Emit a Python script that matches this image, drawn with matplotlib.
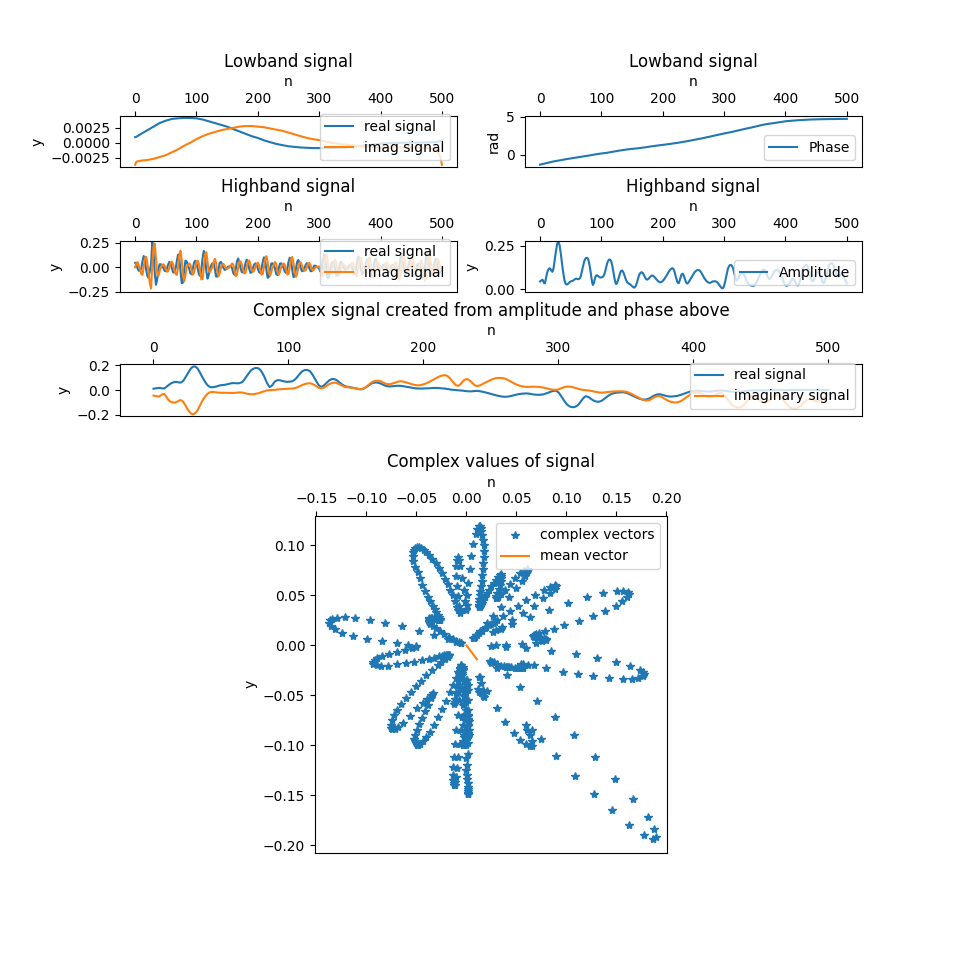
"""Lowband / highband signal decomposition and the complex signal built from them."""

import numpy as np
import matplotlib

matplotlib.use("Agg")
import matplotlib.pyplot as plt  # noqa: E402

# Lowband signal (smooth).
LOW_N = [0, 2, 5, 10, 20, 30, 40, 50, 60, 70, 80, 90, 100, 110, 120, 130, 140,
         150, 160, 170, 180, 190, 200, 210, 220, 230, 240, 250, 260, 270, 280,
         290, 300, 320, 340, 360, 380, 400, 420, 440, 460, 480, 490, 495, 498, 500]
LOW_REAL = [0.00094, 0.0010, 0.0012, 0.0015, 0.0021, 0.0027, 0.0033, 0.0037,
            0.0040, 0.0041, 0.00417, 0.00415, 0.0041, 0.0039, 0.0036, 0.0033,
            0.0030, 0.0027, 0.0023, 0.0019, 0.0015, 0.0011, 0.0008, 0.0004,
            0.0001, -0.0002, -0.0004, -0.0006, -0.0007, -0.0008, -0.00085,
            -0.0009, -0.0009, -0.0009, -0.0008, -0.0006, -0.0004, -0.00015,
            -0.00005, 0.0, 0.00003, 0.00005, 0.0001, 0.0002, 0.0003, 0.0004]
LOW_IMAG = [-0.0037, -0.0032, -0.0031, -0.0030, -0.0029, -0.0027, -0.0024,
            -0.0021, -0.0016, -0.0011, -0.0005, 0.0, 0.0006, 0.0011, 0.0015,
            0.0018, 0.0021, 0.0023, 0.0025, 0.0027, 0.0028, 0.0028, 0.0027,
            0.0026, 0.0024, 0.0022, 0.0020, 0.0017, 0.0014, 0.0011, 0.0008,
            0.0006, 0.00045, 0.0, -0.0003, -0.0005, -0.0007, -0.0008, -0.0008,
            -0.0008, -0.0008, -0.0009, -0.0012, -0.0018, -0.0026, -0.0037]

# Phase of the lowband and amplitude of the highband, one value per sample.
PHASE = [
    -1.32, -1.30, -1.28, -1.26, -1.24, -1.22, -1.20, -1.18, -1.16, -1.14,
    -1.12, -1.10, -1.08, -1.055, -1.03, -1.01, -0.99, -0.975, -0.96, -0.945,
    -0.93, -0.915, -0.90, -0.89, -0.88, -0.865, -0.85, -0.835, -0.82, -0.805,
    -0.79, -0.775, -0.76, -0.745, -0.73, -0.715, -0.70, -0.685, -0.67, -0.655,
    -0.64, -0.625, -0.61, -0.595, -0.58, -0.57, -0.56, -0.545, -0.53, -0.515,
    -0.50, -0.49, -0.48, -0.465, -0.45, -0.435, -0.42, -0.405, -0.39, -0.38,
    -0.37, -0.355, -0.34, -0.33, -0.32, -0.305, -0.29, -0.28, -0.27, -0.255,
    -0.24, -0.225, -0.21, -0.20, -0.19, -0.175, -0.16, -0.15, -0.14, -0.125,
    -0.11, -0.095, -0.08, -0.065, -0.05, -0.035, -0.02, -0.005, 0.01, 0.025,
    0.04, 0.055, 0.07, 0.08, 0.09, 0.10, 0.11, 0.12, 0.13, 0.14,
    0.15, 0.155, 0.16, 0.17, 0.18, 0.19, 0.20, 0.215, 0.23, 0.245,
    0.26, 0.275, 0.29, 0.305, 0.32, 0.335, 0.35, 0.365, 0.38, 0.395,
    0.41, 0.425, 0.44, 0.455, 0.47, 0.48, 0.49, 0.505, 0.52, 0.535,
    0.55, 0.56, 0.57, 0.585, 0.60, 0.61, 0.62, 0.635, 0.65, 0.66,
    0.67, 0.68, 0.69, 0.70, 0.71, 0.72, 0.73, 0.74, 0.75, 0.76,
    0.77, 0.775, 0.78, 0.79, 0.80, 0.805, 0.81, 0.82, 0.83, 0.84,
    0.85, 0.855, 0.86, 0.87, 0.88, 0.89, 0.90, 0.915, 0.93, 0.94,
    0.95, 0.965, 0.98, 0.99, 1.00, 1.015, 1.03, 1.04, 1.05, 1.065,
    1.08, 1.095, 1.11, 1.12, 1.13, 1.14, 1.15, 1.16, 1.17, 1.18,
    1.19, 1.20, 1.21, 1.22, 1.23, 1.24, 1.25, 1.265, 1.28, 1.29,
    1.30, 1.31, 1.32, 1.33, 1.34, 1.35, 1.36, 1.37, 1.38, 1.39,
    1.40, 1.415, 1.43, 1.44, 1.45, 1.46, 1.47, 1.48, 1.49, 1.505,
    1.52, 1.53, 1.54, 1.555, 1.57, 1.58, 1.59, 1.605, 1.62, 1.635,
    1.65, 1.66, 1.67, 1.685, 1.70, 1.715, 1.73, 1.74, 1.75, 1.765,
    1.78, 1.795, 1.81, 1.825, 1.84, 1.855, 1.87, 1.885, 1.90, 1.915,
    1.93, 1.945, 1.96, 1.975, 1.99, 2.005, 2.02, 2.04, 2.06, 2.075,
    2.09, 2.11, 2.13, 2.145, 2.16, 2.18, 2.20, 2.22, 2.24, 2.255,
    2.27, 2.29, 2.31, 2.325, 2.34, 2.36, 2.38, 2.395, 2.41, 2.43,
    2.45, 2.47, 2.49, 2.505, 2.52, 2.54, 2.56, 2.58, 2.60, 2.615,
    2.63, 2.65, 2.67, 2.685, 2.70, 2.72, 2.74, 2.76, 2.78, 2.795,
    2.81, 2.825, 2.84, 2.855, 2.87, 2.885, 2.90, 2.915, 2.93, 2.945,
    2.96, 2.98, 3.00, 3.02, 3.04, 3.06, 3.08, 3.095, 3.11, 3.13,
    3.15, 3.17, 3.19, 3.21, 3.23, 3.25, 3.27, 3.285, 3.30, 3.32,
    3.34, 3.36, 3.38, 3.395, 3.41, 3.43, 3.45, 3.47, 3.49, 3.505,
    3.52, 3.54, 3.56, 3.575, 3.59, 3.61, 3.63, 3.645, 3.66, 3.68,
    3.70, 3.72, 3.74, 3.76, 3.78, 3.80, 3.82, 3.84, 3.86, 3.875,
    3.89, 3.91, 3.93, 3.95, 3.97, 3.985, 4.00, 4.015, 4.03, 4.04,
    4.05, 4.065, 4.08, 4.09, 4.10, 4.11, 4.12, 4.135, 4.15, 4.16,
    4.17, 4.18, 4.19, 4.205, 4.22, 4.235, 4.25, 4.26, 4.27, 4.285,
    4.30, 4.31, 4.32, 4.335, 4.35, 4.36, 4.37, 4.385, 4.40, 4.41,
    4.42, 4.43, 4.44, 4.445, 4.45, 4.46, 4.47, 4.475, 4.48, 4.49,
    4.50, 4.505, 4.51, 4.515, 4.52, 4.525, 4.53, 4.54, 4.55, 4.555,
    4.56, 4.565, 4.57, 4.575, 4.58, 4.585, 4.59, 4.595, 4.60, 4.605,
    4.61, 4.615, 4.62, 4.625, 4.63, 4.63, 4.63, 4.635, 4.64, 4.645,
    4.65, 4.655, 4.66, 4.66, 4.66, 4.665, 4.67, 4.67, 4.67, 4.675,
    4.68, 4.68, 4.68, 4.685, 4.69, 4.69, 4.69, 4.695, 4.70, 4.70,
    4.70, 4.70, 4.70, 4.705, 4.71, 4.71, 4.71, 4.71, 4.71, 4.71,
    4.71, 4.715, 4.72, 4.72, 4.72, 4.72, 4.72, 4.72, 4.72, 4.72,
    4.72, 4.725, 4.73, 4.73, 4.73, 4.73, 4.73, 4.73, 4.73, 4.73,
    4.73, 4.73, 4.73, 4.735, 4.74, 4.74, 4.74, 4.74, 4.74, 4.74,
    4.74,
]

AMPLITUDE = [
    0.045, 0.048, 0.05, 0.053, 0.055, 0.048, 0.04, 0.034, 0.035, 0.05,
    0.07, 0.086, 0.10, 0.109, 0.115, 0.119, 0.12, 0.116, 0.11, 0.104,
    0.10, 0.107, 0.12, 0.143, 0.17, 0.196, 0.22, 0.242, 0.26, 0.269,
    0.27, 0.263, 0.25, 0.227, 0.20, 0.17, 0.14, 0.114, 0.09, 0.068,
    0.05, 0.038, 0.03, 0.028, 0.028, 0.03, 0.032, 0.036, 0.04, 0.043,
    0.045, 0.046, 0.047, 0.048, 0.05, 0.053, 0.055, 0.058, 0.06, 0.061,
    0.06, 0.059, 0.058, 0.058, 0.06, 0.064, 0.07, 0.083, 0.10, 0.115,
    0.13, 0.146, 0.16, 0.169, 0.175, 0.179, 0.18, 0.179, 0.175, 0.165,
    0.15, 0.131, 0.11, 0.085, 0.06, 0.04, 0.025, 0.03, 0.04, 0.056,
    0.07, 0.076, 0.08, 0.08, 0.078, 0.075, 0.072, 0.07, 0.068, 0.067,
    0.068, 0.069, 0.07, 0.074, 0.08, 0.089, 0.10, 0.115, 0.13, 0.143,
    0.155, 0.162, 0.168, 0.17, 0.17, 0.166, 0.16, 0.146, 0.13, 0.11,
    0.09, 0.07, 0.05, 0.038, 0.03, 0.033, 0.04, 0.052, 0.065, 0.078,
    0.09, 0.098, 0.105, 0.107, 0.107, 0.102, 0.095, 0.085, 0.075, 0.065,
    0.055, 0.047, 0.04, 0.037, 0.035, 0.032, 0.03, 0.027, 0.025, 0.021,
    0.018, 0.015, 0.012, 0.01, 0.01, 0.014, 0.02, 0.03, 0.04, 0.052,
    0.065, 0.076, 0.085, 0.091, 0.095, 0.097, 0.097, 0.094, 0.09, 0.083,
    0.075, 0.068, 0.062, 0.058, 0.056, 0.056, 0.058, 0.061, 0.065, 0.069,
    0.073, 0.076, 0.078, 0.079, 0.078, 0.075, 0.072, 0.068, 0.064, 0.06,
    0.056, 0.052, 0.048, 0.045, 0.043, 0.041, 0.04, 0.041, 0.042, 0.045,
    0.048, 0.052, 0.056, 0.061, 0.066, 0.072, 0.078, 0.084, 0.09, 0.096,
    0.102, 0.107, 0.112, 0.115, 0.118, 0.12, 0.12, 0.117, 0.112, 0.102,
    0.09, 0.076, 0.062, 0.05, 0.04, 0.036, 0.035, 0.044, 0.055, 0.068,
    0.08, 0.086, 0.089, 0.086, 0.08, 0.07, 0.06, 0.05, 0.04, 0.035,
    0.033, 0.036, 0.04, 0.046, 0.052, 0.058, 0.064, 0.07, 0.076, 0.082,
    0.088, 0.093, 0.098, 0.102, 0.105, 0.107, 0.109, 0.11, 0.11, 0.109,
    0.108, 0.104, 0.1, 0.094, 0.088, 0.082, 0.075, 0.068, 0.062, 0.057,
    0.052, 0.048, 0.045, 0.042, 0.04, 0.038, 0.037, 0.037, 0.038, 0.04,
    0.042, 0.044, 0.045, 0.046, 0.046, 0.046, 0.045, 0.044, 0.042, 0.039,
    0.035, 0.03, 0.025, 0.02, 0.015, 0.011, 0.008, 0.006, 0.006, 0.011,
    0.02, 0.034, 0.05, 0.067, 0.085, 0.1, 0.115, 0.125, 0.132, 0.137,
    0.139, 0.139, 0.137, 0.132, 0.125, 0.114, 0.1, 0.085, 0.07, 0.058,
    0.05, 0.051, 0.055, 0.062, 0.07, 0.078, 0.085, 0.09, 0.093, 0.095,
    0.095, 0.092, 0.088, 0.081, 0.072, 0.063, 0.055, 0.047, 0.04, 0.035,
    0.03, 0.027, 0.025, 0.023, 0.022, 0.021, 0.02, 0.02, 0.02, 0.022,
    0.025, 0.03, 0.035, 0.042, 0.05, 0.058, 0.065, 0.072, 0.08, 0.088,
    0.095, 0.101, 0.106, 0.11, 0.112, 0.112, 0.11, 0.106, 0.1, 0.09,
    0.08, 0.072, 0.066, 0.061, 0.058, 0.06, 0.064, 0.071, 0.078, 0.085,
    0.092, 0.098, 0.103, 0.107, 0.109, 0.11, 0.111, 0.111, 0.109, 0.105,
    0.1, 0.094, 0.086, 0.077, 0.068, 0.059, 0.05, 0.042, 0.034, 0.028,
    0.024, 0.021, 0.02, 0.022, 0.025, 0.027, 0.03, 0.036, 0.042, 0.049,
    0.055, 0.058, 0.06, 0.058, 0.055, 0.048, 0.04, 0.034, 0.028, 0.024,
    0.022, 0.025, 0.03, 0.042, 0.055, 0.07, 0.085, 0.099, 0.112, 0.122,
    0.13, 0.135, 0.138, 0.14, 0.14, 0.137, 0.132, 0.123, 0.112, 0.099,
    0.085, 0.072, 0.06, 0.051, 0.045, 0.046, 0.05, 0.059, 0.07, 0.08,
    0.09, 0.096, 0.1, 0.1, 0.098, 0.092, 0.085, 0.075, 0.065, 0.055,
    0.045, 0.039, 0.035, 0.038, 0.045, 0.057, 0.07, 0.085, 0.1, 0.113,
    0.125, 0.134, 0.142, 0.146, 0.149, 0.149, 0.148, 0.144, 0.138, 0.13,
    0.12, 0.109, 0.098, 0.089, 0.08, 0.074, 0.07, 0.071, 0.075, 0.081,
    0.088, 0.091, 0.092, 0.09, 0.085, 0.076, 0.065, 0.055, 0.045, 0.04,
    0.035,
]

# Highband signal, every second sample.
HIGH_N = np.arange(0, 501, 2)
HIGH_REAL = [
    0.045, 0.031, -0.012, -0.036, -0.032, -0.015, 0.062, 0.115, 0.074, -0.024,
    -0.09, -0.108, -0.037, 0.03, 0.26, 0.167, -0.055, -0.18, -0.126, -0.02,
    0.031, 0.03, 0.017, -0.007, -0.036, -0.041, -0.01, 0.031, 0.055, 0.037,
    -0.013, -0.052, -0.054, -0.015, 0.062, 0.13, 0.099, -0.039, -0.162, -0.158,
    -0.033, 0.068, 0.06, 0.016, -0.009, -0.063, -0.072, -0.017, 0.045, 0.068,
    0.042, -0.015, -0.072, -0.09, -0.029, 0.096, 0.168, 0.105, -0.035, -0.117,
    -0.081, -0.011, 0.019, 0.04, 0.04, -0.02, -0.095, -0.096, -0.021, 0.047,
    0.055, 0.025, -0.008, -0.027, -0.023, -0.004, 0.007, 0.01, 0.012, -0.009,
    -0.059, -0.077, -0.021, 0.06, 0.09, 0.047, -0.014, -0.05, -0.052, -0.014,
    0.045, 0.078, 0.048, -0.016, -0.058, -0.05, -0.011, 0.027, 0.04, 0.026,
    -0.011, -0.05, -0.059, -0.017, 0.056, 0.102, 0.069, -0.026, -0.108, -0.101,
    -0.02, 0.038, 0.04, 0.022, -0.012, -0.072, -0.08, -0.018, 0.037, 0.04,
    0.02, -0.009, -0.047, -0.058, -0.017, 0.055, 0.098, 0.065, -0.024, -0.099,
    -0.097, -0.022, 0.055, 0.075, 0.038, -0.011, -0.041, -0.036, -0.008, 0.024,
    0.042, 0.028, -0.01, -0.041, -0.038, -0.008, 0.016, 0.015, 0.005, -0.001,
    -0.018, -0.045, -0.019, 0.071, 0.132, 0.086, -0.03, -0.113, -0.09, -0.015,
    0.031, 0.055, 0.043, -0.019, -0.084, -0.086, -0.019, 0.045, 0.055, 0.025,
    -0.007, -0.023, -0.02, -0.004, 0.012, 0.025, 0.022, -0.011, -0.059, -0.072,
    -0.021, 0.066, 0.112, 0.068, -0.022, -0.072, -0.059, -0.013, 0.04, 0.078,
    0.057, -0.023, -0.098, -0.1, -0.024, 0.062, 0.086, 0.042, -0.011, -0.031,
    -0.022, -0.004, 0.016, 0.03, 0.026, -0.012, -0.054, -0.05, -0.009, 0.017,
    0.022, 0.019, -0.012, -0.077, -0.101, -0.029, 0.086, 0.14, 0.082, -0.025,
    -0.077, -0.054, -0.01, 0.031, 0.07, 0.056, -0.022, -0.088, -0.077, -0.014,
    0.028, 0.035, 0.028, -0.015, -0.09, -0.113, -0.031, 0.092, 0.148, 0.086,
    -0.026, -0.088, -0.072, -0.015, 0.047, 0.088, 0.057, -0.019, -0.059, -0.041,
    -0.008,
]

HIGH_IMAG = [
    0.0, 0.039, 0.053, 0.017, -0.015, -0.068, -0.078, 0.0, 0.094, 0.107,
    0.043, -0.052, -0.165, -0.218, 0.02, 0.211, 0.243, 0.086, -0.06, -0.087,
    -0.039, 0.0, 0.022, 0.031, 0.017, -0.019, -0.046, -0.039, 0.0, 0.047,
    0.058, 0.025, -0.026, -0.068, -0.078, 0.0, 0.125, 0.17, 0.077, -0.075,
    -0.146, -0.086, 0.0, 0.02, 0.039, 0.03, -0.034, -0.076, -0.056, 0.0,
    0.053, 0.068, 0.034, -0.043, -0.126, -0.121, 0.0, 0.133, 0.155, 0.056,
    -0.039, -0.049, -0.023, 0.0, 0.051, 0.087, 0.045, -0.046, -0.092, -0.059,
    0.0, 0.031, 0.034, 0.013, -0.011, -0.017, -0.009, 0.0, 0.016, 0.039,
    0.028, -0.037, -0.092, -0.076, 0.0, 0.059, 0.06, 0.024, -0.025, -0.063,
    -0.057, 0.0, 0.061, 0.07, 0.028, -0.024, -0.047, -0.034, 0.0, 0.033,
    0.047, 0.024, -0.028, -0.076, -0.07, 0.0, 0.087, 0.114, 0.052, -0.048,
    -0.087, -0.048, 0.0, 0.027, 0.053, 0.034, -0.038, -0.078, -0.047, 0.0,
    0.026, 0.039, 0.022, -0.028, -0.074, -0.069, 0.0, 0.082, 0.106, 0.047,
    -0.046, -0.097, -0.069, 0.0, 0.048, 0.05, 0.019, -0.017, -0.036, -0.03,
    0.0, 0.035, 0.045, 0.019, -0.018, -0.034, -0.02, 0.0, 0.006, 0.006,
    0.009, -0.022, -0.082, -0.09, 0.0, 0.108, 0.133, 0.054, -0.043, -0.068,
    -0.039, 0.0, 0.055, 0.082, 0.04, -0.041, -0.085, -0.056, 0.0, 0.031,
    0.029, 0.011, -0.009, -0.019, -0.016, 0.0, 0.027, 0.049, 0.028, -0.034,
    -0.092, -0.083, 0.0, 0.086, 0.097, 0.034, -0.028, -0.056, -0.05, 0.0,
    0.072, 0.1, 0.047, -0.048, -0.106, -0.078, 0.0, 0.053, 0.049, 0.015,
    -0.01, -0.019, -0.02, 0.0, 0.033, 0.053, 0.026, -0.024, -0.039, -0.022,
    0.0, 0.023, 0.053, 0.037, -0.048, -0.126, -0.108, 0.0, 0.103, 0.109,
    0.037, -0.026, -0.044, -0.039, 0.0, 0.07, 0.097, 0.042, -0.037, -0.063,
    -0.035, 0.0, 0.035, 0.068, 0.043, -0.054, -0.138, -0.116, 0.0, 0.108,
    0.116, 0.042, -0.034, -0.068, -0.059, 0.0, 0.072, 0.082, 0.028, -0.019,
    -0.034,
]

# Mean of the complex vectors, as drawn in the bottom panel.
MEAN_VECTOR = (0.0104, -0.014)

# The legends on the thin strips sit a little above the usual upper-right slot.
STRIP_LEGEND = dict(loc="upper right", bbox_to_anchor=(1.0, 1.16))


def top_axis(ax, ylabel):
    ax.xaxis.tick_top()
    ax.xaxis.set_label_position("top")
    ax.set_xlabel("n")
    ax.set_ylabel(ylabel)


amplitude = np.array(AMPLITUDE)
phase = np.array(PHASE)
n = np.arange(len(amplitude))
signal = amplitude * np.exp(1j * phase)

fig = plt.figure(figsize=(9.58, 9.58), dpi=100)

ax_low = fig.add_axes([0.125, 0.8254, 0.3523, 0.0539])
ax_phase = fig.add_axes([0.5477, 0.8254, 0.3523, 0.0539])
ax_high = fig.add_axes([0.125, 0.6949, 0.3523, 0.0539])
ax_amp = fig.add_axes([0.5477, 0.6949, 0.3523, 0.0539])
ax_cplx = fig.add_axes([0.125, 0.5658, 0.775, 0.054])
ax_vec = fig.add_axes([0.3288, 0.11, 0.3674, 0.3514])

# Lowband
ax_low.plot(LOW_N, LOW_REAL, label="real signal")
ax_low.plot(LOW_N, LOW_IMAG, label="imag signal")
ax_low.set_title("Lowband signal")
top_axis(ax_low, "y")
ax_low.set_ylim(-0.00412, 0.00455)
ax_low.set_yticks([-0.0025, 0.0, 0.0025])
ax_low.legend(**STRIP_LEGEND)

ax_phase.plot(n, phase, label="Phase")
ax_phase.set_title("Lowband signal")
top_axis(ax_phase, "rad")
ax_phase.set_ylim(-1.67, 5.17)
ax_phase.set_yticks([0, 5])
ax_phase.legend(loc="lower right")

# Highband
ax_high.plot(HIGH_N, HIGH_REAL, label="real signal")
ax_high.plot(HIGH_N, HIGH_IMAG, label="imag signal")
ax_high.set_title("Highband signal")
top_axis(ax_high, "y")
ax_high.set_ylim(-0.257, 0.273)
ax_high.set_yticks([-0.25, 0.0, 0.25])
ax_high.legend(**STRIP_LEGEND)

ax_amp.plot(n, amplitude, label="Amplitude")
ax_amp.set_title("Highband signal")
top_axis(ax_amp, "y")
ax_amp.set_ylim(-0.017, 0.278)
ax_amp.set_yticks([0.0, 0.25])
ax_amp.legend(loc="lower right")

# Complex signal
ax_cplx.plot(n, signal.real, label="real signal")
ax_cplx.plot(n, signal.imag, label="imaginary signal")
ax_cplx.set_title("Complex signal created from amplitude and phase above")
top_axis(ax_cplx, "y")
ax_cplx.set_ylim(-0.208, 0.208)
ax_cplx.set_yticks([-0.2, 0.0, 0.2])
ax_cplx.legend(**STRIP_LEGEND)

ax_vec.plot(signal.real, signal.imag, "*", label="complex vectors")
ax_vec.plot([0, MEAN_VECTOR[0]], [0, MEAN_VECTOR[1]], label="mean vector")
ax_vec.set_title("Complex values of signal")
top_axis(ax_vec, "y")
ax_vec.set_xlim(-0.1515, 0.2005)
ax_vec.set_ylim(-0.2075, 0.1295)
ax_vec.legend(loc="upper right")

fig.savefig("out.png", dpi=100)
plt.close(fig)
